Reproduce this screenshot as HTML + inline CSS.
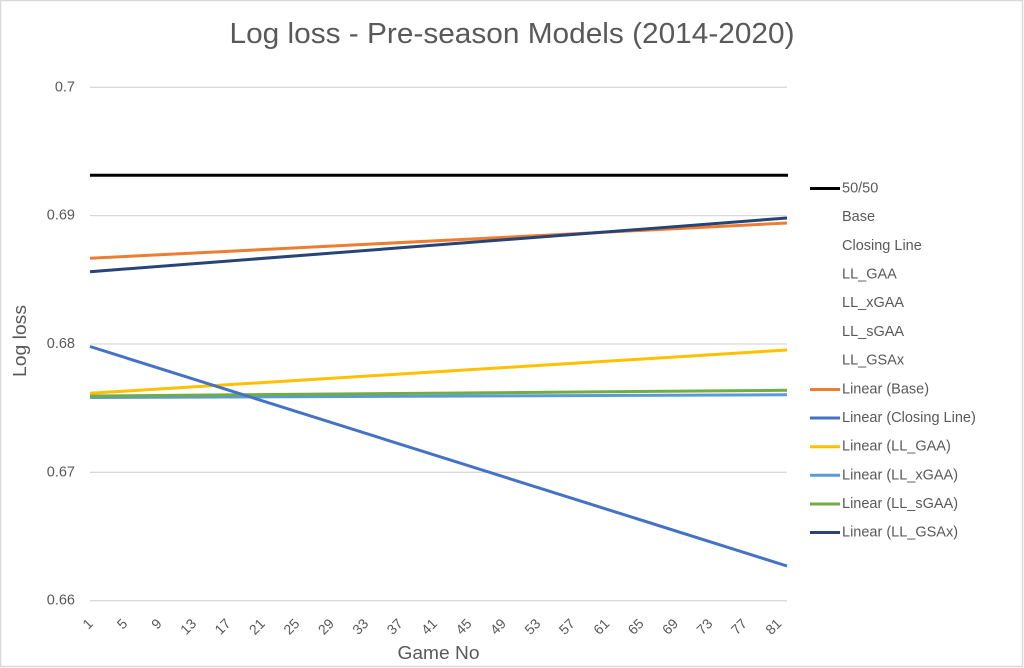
<!DOCTYPE html>
<html><head><meta charset="utf-8"><style>
html,body{margin:0;padding:0;background:#fff;}
svg{display:block;}
text{font-family:"Liberation Sans",Arial,sans-serif;fill:#595959;}
</style></head><body>
<svg width="1024" height="668" viewBox="0 0 1024 668" xmlns="http://www.w3.org/2000/svg">
<rect x="0.5" y="0.5" width="1022" height="666" fill="#fff" stroke="#d9d9d9" stroke-width="1.5"/>
<text x="512" y="43" font-size="29" text-anchor="middle" textLength="565" lengthAdjust="spacingAndGlyphs">Log loss - Pre-season Models (2014-2020)</text>
<g stroke="#d9d9d9" stroke-width="1.3">
<line x1="90" y1="87.3" x2="787" y2="87.3"/>
<line x1="90" y1="215.6" x2="787" y2="215.6"/>
<line x1="90" y1="344" x2="787" y2="344"/>
<line x1="90" y1="472.3" x2="787" y2="472.3"/>
<line x1="90" y1="600.7" x2="787" y2="600.7"/>
</g>
<g font-size="14.5" text-anchor="end" dominant-baseline="central">
<text x="75" y="87.3">0.7</text>
<text x="75" y="215.6">0.69</text>
<text x="75" y="344">0.68</text>
<text x="75" y="472.3">0.67</text>
<text x="75" y="600.7">0.66</text>
</g>
<g font-size="14" text-anchor="end" dominant-baseline="central">
<text transform="translate(90.3,621) rotate(-45)">1</text>
<text transform="translate(124.7,621) rotate(-45)">5</text>
<text transform="translate(159.1,621) rotate(-45)">9</text>
<text transform="translate(193.6,621) rotate(-45)">13</text>
<text transform="translate(228,621) rotate(-45)">17</text>
<text transform="translate(262.4,621) rotate(-45)">21</text>
<text transform="translate(296.8,621) rotate(-45)">25</text>
<text transform="translate(331.3,621) rotate(-45)">29</text>
<text transform="translate(365.7,621) rotate(-45)">33</text>
<text transform="translate(400.1,621) rotate(-45)">37</text>
<text transform="translate(434.5,621) rotate(-45)">41</text>
<text transform="translate(469,621) rotate(-45)">45</text>
<text transform="translate(503.4,621) rotate(-45)">49</text>
<text transform="translate(537.8,621) rotate(-45)">53</text>
<text transform="translate(572.2,621) rotate(-45)">57</text>
<text transform="translate(606.7,621) rotate(-45)">61</text>
<text transform="translate(641.1,621) rotate(-45)">65</text>
<text transform="translate(675.5,621) rotate(-45)">69</text>
<text transform="translate(709.9,621) rotate(-45)">73</text>
<text transform="translate(744.4,621) rotate(-45)">77</text>
<text transform="translate(778.8,621) rotate(-45)">81</text>
</g>
<text x="438.5" y="659" font-size="18" text-anchor="middle" textLength="82" lengthAdjust="spacingAndGlyphs">Game No</text>
<text transform="translate(26,341) rotate(-90)" font-size="18" text-anchor="middle" textLength="72" lengthAdjust="spacingAndGlyphs">Log loss</text>
<g stroke-width="3" fill="none" stroke-linecap="butt">
<line x1="90" y1="175.2" x2="788" y2="175.2" stroke="#000"/>
<line x1="90" y1="397.5" x2="787" y2="394.8" stroke="#5b9bd5"/>
<line x1="90" y1="396" x2="787" y2="390.3" stroke="#70ad47"/>
<line x1="90" y1="393.3" x2="787" y2="350" stroke="#ffc000"/>
<line x1="90" y1="346.5" x2="787" y2="566" stroke="#4472c4"/>
<line x1="90" y1="258.3" x2="787" y2="223" stroke="#ed7d31"/>
<line x1="90" y1="271.7" x2="787" y2="218" stroke="#264478"/>
</g>
<g stroke-width="3">
<line x1="810" y1="188.5" x2="840" y2="188.5" stroke="#000"/>
<line x1="810" y1="389.5" x2="840" y2="389.5" stroke="#ed7d31"/>
<line x1="810" y1="418" x2="840" y2="418" stroke="#4472c4"/>
<line x1="810" y1="446.7" x2="840" y2="446.7" stroke="#ffc000"/>
<line x1="810" y1="475.3" x2="840" y2="475.3" stroke="#5b9bd5"/>
<line x1="810" y1="504" x2="840" y2="504" stroke="#70ad47"/>
<line x1="810" y1="532.5" x2="840" y2="532.5" stroke="#264478"/>
</g>
<g font-size="14.5" dominant-baseline="central">
<text x="842" y="188.5">50/50</text>
<text x="842" y="217.2">Base</text>
<text x="842" y="246">Closing Line</text>
<text x="842" y="274.6">LL_GAA</text>
<text x="842" y="303.2">LL_xGAA</text>
<text x="842" y="332">LL_sGAA</text>
<text x="842" y="360.5">LL_GSAx</text>
<text x="842" y="389.5">Linear (Base)</text>
<text x="842" y="418">Linear (Closing Line)</text>
<text x="842" y="446.7">Linear (LL_GAA)</text>
<text x="842" y="475.3">Linear (LL_xGAA)</text>
<text x="842" y="504">Linear (LL_sGAA)</text>
<text x="842" y="532.5">Linear (LL_GSAx)</text>
</g>
</svg>
</body></html>
